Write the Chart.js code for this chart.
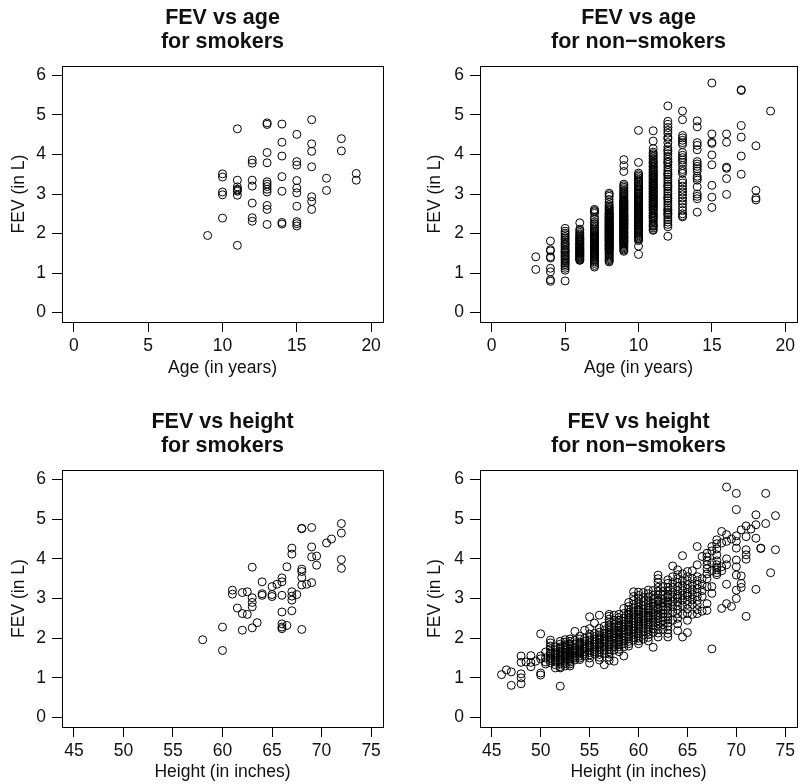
<!DOCTYPE html>
<html>
<head>
<meta charset="utf-8">
<script src="https://cdn.jsdelivr.net/npm/chart.js@4.4.1/dist/chart.umd.min.js"></script>
<style>
  html, body { margin: 0; padding: 0; background: #fff; }
  #wrap { position: relative; width: 802px; height: 784px; }
  #wrap canvas { position: absolute; left: 0; top: 0; }
</style>
</head>
<body>
<div id="wrap">
  <canvas id="ageSmk" width="802" height="784"></canvas>
  <canvas id="ageNon" width="802" height="784"></canvas>
  <canvas id="htSmk" width="802" height="784"></canvas>
  <canvas id="htNon" width="802" height="784"></canvas>
</div>
<script>
// tick labels
const ageTicks = [0, 5, 10, 15, 20];
const heightTicks = [45, 50, 55, 60, 65, 70, 75];
const fevTicks = [0, 1, 2, 3, 4, 5, 6];

// smokers: FEV grouped by age
const smokerAges = [9, 10, 11, 12, 13, 14, 15, 16, 17, 18, 19];
const smokerAgeFev = [
  [1.95],
  [3.51, 3.43, 3.05, 2.98, 2.39],
  [4.65, 3.35, 3.18, 3.12, 3.10, 3.07, 2.97, 1.70],
  [3.86, 3.78, 3.35, 3.20, 2.77, 2.40, 2.31],
  [4.80, 4.76, 4.05, 3.79, 3.31, 3.25, 3.19, 3.12, 3.05, 2.71, 2.61, 2.23],
  [4.77, 4.31, 3.96, 3.44, 3.07, 2.28, 2.24],
  [4.51, 3.82, 3.73, 3.34, 3.15, 3.03, 2.69, 2.30, 2.25, 2.19],
  [4.88, 4.27, 4.08, 3.69, 2.93, 2.81, 2.61],
  [3.40, 3.09],
  [4.40, 4.09],
  [3.52, 3.35]
];

// non-smokers: FEV grouped by age
const nonSmokerAges = [3, 4, 5, 6, 7, 8, 9, 10, 11, 12, 13, 14, 15, 16, 17, 18, 19];
const nonSmokerAgeFev = [
  [1.41, 1.09],
  [1.81, 1.59, 1.56, 1.41, 1.38, 1.12, 1.03, 0.83, 0.79],
  [2.13, 2.06, 2.01, 1.97, 1.92, 1.88, 1.84, 1.79, 1.75, 1.72, 1.68, 1.64, 1.60, 1.57, 1.54, 1.50, 1.46, 1.43,
   1.40, 1.36, 1.33, 1.29, 1.25, 1.21, 1.17, 1.12, 1.07, 0.80],
  [2.27, 2.11, 2.07, 2.03, 1.99, 1.96, 1.93, 1.90, 1.88, 1.85, 1.82, 1.79, 1.77, 1.74, 1.71, 1.69, 1.66, 1.64,
   1.61, 1.59, 1.57, 1.55, 1.53, 1.51, 1.49, 1.47, 1.45, 1.43, 1.41, 1.39, 1.37, 1.35, 1.33, 1.32, 1.62, 1.72, 1.84],
  [2.61, 2.58, 2.55, 2.51, 2.41, 2.36, 2.29, 2.23, 2.18, 2.14, 2.10, 2.07, 2.04, 2.01, 1.98, 1.95, 1.92, 1.90,
   1.87, 1.85, 1.83, 1.80, 1.78, 1.76, 1.74, 1.72, 1.70, 1.68, 1.66, 1.64, 1.62, 1.60, 1.58, 1.56, 1.54, 1.52,
   1.50, 1.48, 1.46, 1.44, 1.42, 1.40, 1.37, 1.34, 1.31, 1.28, 1.24, 1.19, 1.15, 1.88, 1.93, 1.73, 1.63, 2.25],
  [3.02, 2.98, 2.94, 2.86, 2.79, 2.73, 2.69, 2.66, 2.63, 2.60, 2.57, 2.54, 2.51, 2.49, 2.47, 2.45, 2.43, 2.41,
   2.39, 2.37, 2.35, 2.33, 2.31, 2.29, 2.27, 2.25, 2.23, 2.21, 2.19, 2.17, 2.15, 2.13, 2.11, 2.09, 2.07, 2.05,
   2.03, 2.01, 1.99, 1.97, 1.95, 1.93, 1.91, 1.89, 1.87, 1.85, 1.83, 1.81, 1.79, 1.77, 1.75, 1.73, 1.71, 1.69,
   1.67, 1.65, 1.63, 1.61, 1.59, 1.57, 1.55, 1.52, 1.49, 1.46, 1.43, 1.40, 1.37, 1.34, 1.31, 1.28, 2.20, 2.10,
   2.00, 1.90, 1.80, 2.30, 2.40, 2.50, 1.70, 1.62, 2.14, 2.04, 1.94, 1.84, 2.24],
  [3.87, 3.72, 3.57, 3.25, 3.21, 3.17, 3.13, 3.09, 3.06, 3.03, 3.00, 2.97, 2.94, 2.91, 2.88, 2.85, 2.83, 2.81,
   2.79, 2.77, 2.75, 2.73, 2.71, 2.69, 2.67, 2.65, 2.63, 2.61, 2.59, 2.57, 2.55, 2.53, 2.51, 2.49, 2.47, 2.45,
   2.43, 2.41, 2.39, 2.37, 2.35, 2.33, 2.31, 2.29, 2.27, 2.25, 2.23, 2.21, 2.19, 2.17, 2.15, 2.13, 2.11, 2.09,
   2.07, 2.05, 2.03, 2.01, 1.99, 1.97, 1.95, 1.93, 1.91, 1.89, 1.87, 1.85, 1.83, 1.81, 1.79, 1.77, 1.75, 1.73,
   1.70, 1.67, 1.64, 1.61, 1.58, 1.55, 2.62, 2.52, 2.42, 2.32, 2.22, 2.12, 2.02, 1.92, 1.82, 2.72, 2.82, 2.36,
   2.26, 2.46, 2.16],
  [4.61, 3.80, 3.53, 3.49, 3.45, 3.41, 3.37, 3.33, 3.29, 3.25, 3.21, 3.17, 3.13, 3.09, 3.05, 3.02, 2.99, 2.96,
   2.93, 2.90, 2.87, 2.84, 2.81, 2.78, 2.75, 2.72, 2.69, 2.66, 2.63, 2.60, 2.57, 2.54, 2.51, 2.48, 2.45, 2.42,
   2.39, 2.36, 2.33, 2.30, 2.27, 2.24, 2.21, 2.18, 2.15, 2.12, 2.09, 2.06, 2.03, 2.00, 1.97, 1.94, 1.91, 1.88,
   1.85, 1.82, 1.68, 1.47, 2.80, 2.70, 2.60, 2.50, 2.40, 2.30, 2.20, 2.10, 3.00, 3.10, 3.20, 3.30, 2.55, 2.65,
   2.35, 2.25, 2.45, 2.85],
  [4.60, 4.34, 4.15, 4.06, 4.02, 3.98, 3.94, 3.90, 3.86, 3.82, 3.78, 3.74, 3.70, 3.66, 3.62, 3.58, 3.54, 3.50,
   3.46, 3.42, 3.38, 3.34, 3.30, 3.26, 3.22, 3.18, 3.14, 3.10, 3.06, 3.02, 2.98, 2.94, 2.90, 2.86, 2.82, 2.78,
   2.74, 2.70, 2.66, 2.62, 2.58, 2.54, 2.50, 2.46, 2.42, 2.38, 2.34, 2.30, 2.26, 2.22, 2.18, 2.14, 2.10, 2.08,
   3.60, 3.40, 3.20, 3.00, 2.80, 2.60, 2.40, 3.50, 3.30, 3.10, 2.90, 2.70, 2.50, 3.70, 3.80, 2.20, 3.45, 3.25,
   3.05, 2.85, 2.65, 3.35, 3.15, 2.95, 2.75, 3.55, 2.45],
  [5.23, 4.84, 4.76, 4.68, 4.61, 4.54, 4.44, 4.40, 4.30, 4.19, 4.12, 4.02, 3.95, 3.88, 3.82, 3.75, 3.68, 3.61,
   3.55, 3.49, 3.43, 3.37, 3.31, 3.25, 3.19, 3.13, 3.07, 3.01, 2.95, 2.89, 2.83, 2.77, 2.71, 2.65, 2.59, 2.53,
   2.47, 2.41, 2.35, 2.29, 2.23, 2.17, 1.93, 3.50, 3.20, 2.90, 2.60, 3.80, 4.08, 2.50],
  [5.10, 4.88, 4.48, 4.42, 4.36, 4.30, 4.25, 4.05, 3.98, 3.92, 3.86, 3.80, 3.72, 3.62, 3.57, 3.52, 3.35, 3.28,
   3.20, 3.12, 3.05, 2.98, 2.90, 2.82, 2.75, 2.66, 2.58, 2.50, 2.45, 2.42],
  [4.85, 4.70, 4.30, 4.23, 4.12, 3.82, 3.76, 3.70, 3.64, 3.58, 3.45, 3.40, 3.35, 3.18, 3.00, 2.94, 2.88, 2.54],
  [5.81, 4.52, 4.31, 4.28, 3.99, 3.74, 3.22, 2.92, 2.66],
  [4.52, 4.31, 3.68, 3.65, 3.39, 2.99],
  [5.64, 5.62, 4.73, 4.44, 3.96, 3.50],
  [4.22, 3.09, 2.90, 2.85],
  [5.10]
];

// smokers: FEV grouped by height (inches)
const smokerHeights = [58, 60, 61, 61.5, 62, 62.5, 63, 63.5, 64, 65, 65.5, 66, 66.5, 67, 67.5, 68, 68.5,
  69, 69.5, 70.5, 71, 72];
const smokerHeightFev = [
  [1.96],
  [2.28, 1.69],
  [3.21, 3.11],
  [2.76],
  [3.15, 2.62, 2.20],
  [3.17, 2.60],
  [3.79, 3.02, 2.90, 2.79, 2.26],
  [2.39],
  [3.42, 3.12, 3.08],
  [3.30, 3.10, 3.05],
  [3.36],
  [3.52, 3.42, 3.08, 2.66, 2.36, 2.28, 2.24],
  [3.80, 2.32],
  [4.27, 4.12, 3.17, 3.06, 2.96, 2.69],
  [3.10],
  [4.77, 4.76, 3.74, 3.68, 3.53, 3.34, 2.22],
  [3.36],
  [4.79, 4.30, 4.05, 3.40],
  [4.07, 3.84],
  [4.40],
  [4.50],
  [4.89, 4.65, 3.98, 3.76]
];

// non-smokers: FEV grouped by height (inches)
const nonSmokerHeights = [46, 46.5, 47, 48, 48.5, 49, 49.5, 50, 50.5, 51, 51.5, 52, 52.5, 53, 53.5, 54, 54.5,
  55, 55.5, 56, 56.5, 57, 57.5, 58, 58.5, 59, 59.5, 60, 60.5, 61, 61.5, 62, 62.5, 63, 63.5, 64, 64.5, 65, 65.5,
  66, 66.5, 67, 67.5, 68, 68.5, 69, 69.5, 70, 70.5, 71, 71.5, 72, 72.5, 73, 73.5, 74];
const nonSmokerHeightFev = [
  [1.08],
  [1.20],
  [1.15, 0.81],
  [1.55, 1.39, 1.10, 1.00, 0.85],
  [1.40],
  [1.56, 1.39, 1.28],
  [1.42],
  [2.11, 1.55, 1.48, 1.12, 1.07],
  [1.65, 1.50, 1.40, 1.35],
  [1.95, 1.88, 1.80, 1.73, 1.66, 1.60, 1.55, 1.49, 1.44, 1.38, 1.50, 1.62],
  [1.78, 1.70, 1.63, 1.56, 1.50, 1.45, 1.40, 1.33, 1.60, 1.25],
  [1.92, 1.85, 1.78, 1.72, 1.66, 1.60, 1.55, 1.50, 1.45, 1.40, 1.35, 1.28, 1.25, 0.79, 1.63, 1.75],
  [1.96, 1.90, 1.83, 1.76, 1.70, 1.64, 1.58, 1.52, 1.47, 1.42, 1.36, 1.30, 1.55, 1.80],
  [1.98, 1.92, 1.86, 1.80, 1.74, 1.68, 1.62, 1.57, 1.52, 1.48, 1.44, 1.40, 1.35, 1.30, 1.65, 1.72, 1.84, 1.58],
  [2.17, 1.95, 1.85, 1.75, 1.68, 1.62, 1.55, 1.50, 1.45, 1.70],
  [2.05, 1.98, 1.90, 1.82, 1.76, 1.70, 1.65, 1.60, 1.55, 1.50, 1.46, 1.72, 1.63, 1.86],
  [2.20, 2.00, 1.92, 1.85, 1.78, 1.72, 1.66, 1.60, 1.55, 1.75],
  [2.54, 2.24, 2.10, 2.02, 1.95, 1.88, 1.82, 1.76, 1.70, 1.64, 1.58, 1.50, 1.37, 1.80],
  [2.38, 2.12, 2.04, 1.97, 1.90, 1.84, 1.78, 1.72, 1.66, 1.60],
  [2.58, 2.25, 2.15, 2.08, 2.01, 1.95, 1.89, 1.83, 1.77, 1.71, 1.65, 1.59, 1.52, 1.45, 1.86, 1.98],
  [2.30, 2.20, 2.12, 2.05, 1.98, 1.91, 1.85, 1.78, 1.70, 1.62, 1.33, 1.95],
  [2.60, 2.55, 2.48, 2.40, 2.33, 2.26, 2.20, 2.14, 2.08, 2.02, 1.96, 1.90, 1.84, 1.78, 1.72, 1.66, 1.60, 1.52,
   1.44, 2.10],
  [2.58, 2.45, 2.35, 2.28, 2.20, 2.13, 2.06, 1.99, 1.92, 1.85, 1.78, 1.70, 1.42, 2.00],
  [2.60, 2.52, 2.45, 2.38, 2.32, 2.26, 2.20, 2.14, 2.08, 2.02, 1.96, 1.90, 1.84, 1.78, 1.72, 1.66, 2.10, 2.30,
   2.18, 1.95],
  [2.75, 2.62, 2.50, 2.42, 2.35, 2.28, 2.21, 2.14, 2.07, 2.00, 1.93, 1.86, 1.78, 1.55],
  [2.90, 2.80, 2.72, 2.65, 2.58, 2.52, 2.46, 2.40, 2.34, 2.28, 2.22, 2.16, 2.10, 2.04, 1.98, 1.92, 1.86, 1.80,
   2.50, 2.30, 2.20, 2.60],
  [3.17, 3.05, 2.95, 2.85, 2.76, 2.68, 2.60, 2.52, 2.45, 2.38, 2.31, 2.24, 2.17, 2.10, 2.02, 1.95],
  [3.16, 3.08, 3.00, 2.92, 2.85, 2.78, 2.72, 2.66, 2.60, 2.54, 2.48, 2.42, 2.36, 2.30, 2.24, 2.18, 2.12, 2.06,
   2.00, 1.93, 1.86, 2.50, 2.70, 2.35],
  [3.15, 3.02, 2.92, 2.82, 2.73, 2.65, 2.57, 2.49, 2.41, 2.33, 2.25, 2.17, 2.08, 1.98],
  [3.21, 3.12, 3.04, 2.96, 2.89, 2.82, 2.76, 2.70, 2.64, 2.58, 2.52, 2.46, 2.40, 2.34, 2.28, 2.22, 2.16, 2.09,
   2.02, 1.93, 2.55, 2.75],
  [3.20, 3.08, 2.98, 2.88, 2.80, 2.72, 2.64, 2.56, 2.48, 2.40, 2.32, 2.24, 2.15, 1.77],
  [3.59, 3.50, 3.40, 3.28, 3.18, 3.09, 3.01, 2.93, 2.86, 2.79, 2.72, 2.65, 2.58, 2.51, 2.44, 2.37, 2.30, 2.22,
   2.13, 2.03, 2.75, 2.95],
  [3.30, 3.18, 3.08, 2.98, 2.89, 2.80, 2.71, 2.62, 2.53, 2.44, 2.34, 2.22],
  [3.47, 3.38, 3.28, 3.19, 3.10, 3.02, 2.94, 2.86, 2.78, 2.70, 2.62, 2.54, 2.46, 2.38, 2.30, 2.21, 2.12, 2.03,
   2.90, 3.05],
  [3.82, 3.55, 3.40, 3.28, 3.16, 3.04, 2.92, 2.80, 2.66, 2.45],
  [3.72, 3.60, 3.50, 3.40, 3.30, 3.20, 3.10, 3.00, 2.91, 2.82, 2.72, 2.62, 2.50, 2.36, 2.19, 3.05],
  [4.08, 3.62, 3.45, 3.32, 3.20, 3.08, 2.96, 2.82, 2.60, 2.03],
  [3.68, 3.55, 3.45, 3.35, 3.25, 3.15, 3.05, 2.95, 2.85, 2.74, 2.62, 2.45, 2.14, 3.10],
  [3.70, 3.50, 3.35, 3.22, 3.10, 2.98, 2.85, 2.60],
  [4.31, 3.85, 3.55, 3.45, 3.35, 3.25, 3.15, 3.05, 2.95, 2.85, 2.72, 2.62],
  [4.06, 3.50, 3.35, 3.20, 3.05, 2.68],
  [4.14, 4.05, 3.95, 3.85, 3.75, 3.62, 3.50, 3.30, 2.87, 2.70],
  [4.31, 4.20, 3.90, 3.70, 3.30, 3.13, 1.73],
  [4.48, 4.38, 4.25, 4.10, 3.95, 3.85, 3.78, 3.72, 3.65, 3.60],
  [4.69, 4.40, 3.80, 3.70, 2.75],
  [5.81, 4.61, 4.44, 4.00, 3.85, 3.36, 2.87],
  [4.50, 2.80],
  [5.65, 5.24, 4.58, 4.44, 4.27, 3.97, 3.80, 3.59, 3.21, 3.00],
  [4.73, 3.57, 3.38, 3.28],
  [4.83, 4.56, 4.23, 4.10, 3.99, 2.55],
  [4.75],
  [5.11, 4.86, 4.52, 3.23],
  [4.27, 4.26],
  [5.65, 4.89],
  [3.65],
  [5.09, 4.23]
];

const FONT = '"Liberation Sans", Arial, Helvetica, sans-serif';
const INK = '#111';

function toPoints(xs, groups) {
  const out = [];
  xs.forEach((x, i) => groups[i].forEach(y => out.push({ x: x, y: y })));
  return out;
}

// frame around the plot region, like R's box()
const boxFrame = {
  id: 'boxFrame',
  afterDraw(chart) {
    const a = chart.chartArea;
    const ctx = chart.ctx;
    ctx.save();
    ctx.strokeStyle = '#000';
    ctx.lineWidth = 1;
    ctx.strokeRect(Math.round(a.left) + 0.5, Math.round(a.top) + 0.5,
      Math.round(a.right - a.left), Math.round(a.bottom - a.top));
    ctx.restore();
  }
};

// p: box edges, title/axis-title positions in page pixels
function panel(id, p) {
  const titleLH = 24, labelSize = 17.5, labelLH = 21;
  const padL = p.yTitleX - labelLH / 2;
  const padT = p.titleY - titleLH / 2;
  const xBottom = p.xTitleY + labelLH / 2;
  const tickFont = { family: FONT, size: labelSize, lineHeight: labelLH / labelSize };

  new Chart(document.getElementById(id), {
    type: 'scatter',
    data: {
      datasets: [{
        data: p.data,
        pointStyle: 'circle',
        pointRadius: 4,
        borderWidth: 1,
        borderColor: '#000',
        backgroundColor: 'rgba(0,0,0,0)'
      }]
    },
    options: {
      responsive: false,
      animation: false,
      events: [],
      layout: {
        padding: { left: padL, top: padT, right: 802 - p.right, bottom: 784 - xBottom }
      },
      plugins: {
        legend: { display: false },
        tooltip: { enabled: false },
        title: {
          display: true,
          fullSize: false,
          text: p.title,
          color: INK,
          font: { family: FONT, size: 21.5, weight: 'bold', lineHeight: titleLH / 21.5 },
          padding: { top: 0, bottom: p.top - padT - 2 * titleLH }
        }
      },
      scales: {
        x: {
          type: 'linear',
          min: p.xMin,
          max: p.xMax,
          afterBuildTicks: s => { s.ticks = p.xTicks.map(v => ({ value: v })); },
          afterFit: s => { s.height = xBottom - p.bottom; },
          ticks: { font: tickFont, color: INK, padding: 4, maxRotation: 0, autoSkip: false },
          grid: { drawOnChartArea: false, tickLength: 10, color: '#000', lineWidth: 1 },
          border: { display: false },
          title: { display: true, text: p.xTitle, color: INK, font: tickFont, padding: 0 }
        },
        y: {
          type: 'linear',
          min: -0.24,
          max: 6.24,
          afterBuildTicks: s => { s.ticks = fevTicks.map(v => ({ value: v })); },
          afterFit: s => { s.width = p.left - padL; },
          ticks: { font: tickFont, color: INK, padding: 6, autoSkip: false },
          grid: { drawOnChartArea: false, tickLength: 10, color: '#000', lineWidth: 1 },
          border: { display: false },
          title: { display: true, text: 'FEV (in L)', color: INK, font: tickFont, padding: 0 }
        }
      }
    },
    plugins: [boxFrame]
  });
}

panel('ageSmk', {
  left: 62, right: 383, top: 66, bottom: 322, yTitleX: 19, xTitleY: 368, titleY: 18,
  title: ['FEV vs age', 'for smokers'], xTitle: 'Age (in years)',
  xMin: -0.8, xMax: 20.8, xTicks: ageTicks, data: toPoints(smokerAges, smokerAgeFev)
});
panel('ageNon', {
  left: 480, right: 800, top: 66, bottom: 322, yTitleX: 435, xTitleY: 368, titleY: 18,
  title: ['FEV vs age', 'for non\u2212smokers'], xTitle: 'Age (in years)',
  xMin: -0.8, xMax: 20.8, xTicks: ageTicks, data: toPoints(nonSmokerAges, nonSmokerAgeFev)
});
panel('htSmk', {
  left: 62, right: 383, top: 470, bottom: 727, yTitleX: 19, xTitleY: 772, titleY: 422,
  title: ['FEV vs height', 'for smokers'], xTitle: 'Height (in inches)',
  xMin: 43.8, xMax: 76.2, xTicks: heightTicks, data: toPoints(smokerHeights, smokerHeightFev)
});
panel('htNon', {
  left: 480, right: 800, top: 470, bottom: 727, yTitleX: 435, xTitleY: 772, titleY: 422,
  title: ['FEV vs height', 'for non\u2212smokers'], xTitle: 'Height (in inches)',
  xMin: 43.8, xMax: 76.2, xTicks: heightTicks, data: toPoints(nonSmokerHeights, nonSmokerHeightFev)
});
</script>
</body>
</html>
